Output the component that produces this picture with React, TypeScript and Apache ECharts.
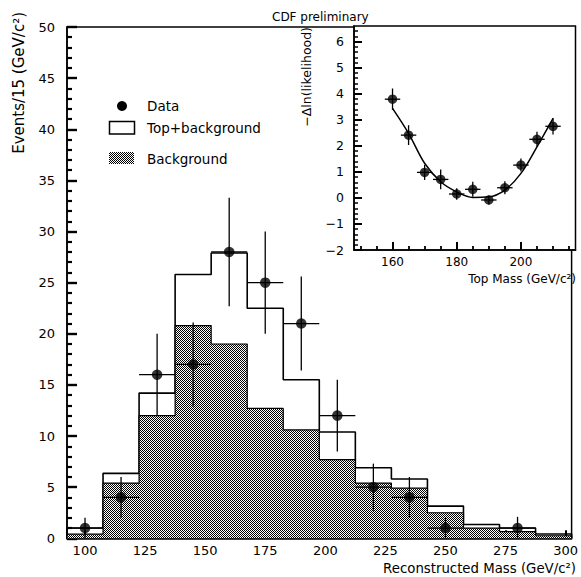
import React, { useEffect, useRef } from "react";
import * as echarts from "echarts";

// ---- Main histogram (reconstructed mass) ----
const binCenters = [100, 115, 130, 145, 160, 175, 190, 205, 220, 235, 250, 265, 280, 295];
const BIN_WIDTH = 15;
const topPlusBackground = [1.0, 6.35, 14.2, 25.8, 27.9, 22.5, 15.5, 10.4, 6.9, 5.8, 3.15, 1.35, 1.0, 0.42];
const backgroundOnly = [0.4, 5.4, 12.0, 20.8, 19.0, 12.7, 10.6, 7.7, 5.4, 4.9, 2.5, 1.0, 0.65, 0.25];
const dataMass = [100, 115, 130, 145, 160, 175, 190, 205, 220, 235, 250, 280];
const dataEvents = [1, 4, 16, 17, 28, 25, 21, 12, 5, 4, 1, 1];
const dataErrors = [1, 2, 4, 4.1, 5.3, 5, 4.6, 3.5, 2.3, 2, 1, 1.1];
const massTickLabels = [100, 125, 150, 175, 200, 225, 250, 275, 300];
const eventTickLabels = [0, 5, 10, 15, 20, 25, 30, 35, 40, 45, 50];
const MASS_MIN = 92.5;
const MASS_MAX = 302.5;

// ---- Inset: likelihood scan ----
const scanMass = [160, 165, 170, 175, 180, 185, 190, 195, 200, 205, 210];
const scanNll = [3.79, 2.41, 0.98, 0.71, 0.15, 0.33, -0.08, 0.39, 1.26, 2.25, 2.75];
const scanErr = [0.41, 0.38, 0.29, 0.38, 0.22, 0.29, 0.17, 0.25, 0.25, 0.29, 0.32];
const SCAN_HALF_STEP = 2.4;
const fitNll = [3.44, 2.48, 1.33, 0.62, 0.23, 0.02, 0.04, 0.3, 0.94, 1.96, 3.05];
const insetMassLabels = [160, 180, 200];
const insetMassMinorTicks = [150, 155, 160, 165, 170, 175, 180, 185, 190, 195, 200, 205, 210, 215];
const insetNllLabels = [-2, -1, 0, 1, 2, 3, 4, 5, 6];

const FONT = '"DejaVu Sans", "Liberation Sans", sans-serif';

function makePattern(): HTMLCanvasElement {
  const size = 4;
  const c = document.createElement("canvas");
  c.width = size;
  c.height = size;
  const ctx = c.getContext("2d")!;
  ctx.fillStyle = "#ffffff";
  ctx.fillRect(0, 0, size, size);
  ctx.fillStyle = "#000000";
  for (let i = 0; i < size; i++) {
    for (let j = 0; j < size; j++) {
      if ((i + j) % 2 === 0) ctx.fillRect(i, j, 1, 1);
    }
  }
  return c;
}

function stepData(values: number[]): number[][] {
  const n = values.length;
  const edges = binCenters.map((c) => c - BIN_WIDTH / 2);
  edges.push(binCenters[n - 1] + BIN_WIDTH / 2);
  const pts: number[][] = [[edges[0], 0]];
  values.forEach((v, i) => pts.push([edges[i], v]));
  pts.push([edges[n], values[n - 1]]);
  pts.push([edges[n], 0]);
  return pts;
}

function errorBarRender(lineWidth: number, yFloor: number) {
  return (params: any, api: any) => {
    const x = api.value(0);
    const y = api.value(1);
    const ey = api.value(2);
    const ex = api.value(3);
    const top = api.coord([x, y + ey]);
    const bot = api.coord([x, Math.max(y - ey, yFloor)]);
    const left = api.coord([x - ex, y]);
    const right = api.coord([x + ex, y]);
    const style = { stroke: "#000", lineWidth };
    return {
      type: "group",
      children: [
        { type: "line", shape: { x1: top[0], y1: top[1], x2: bot[0], y2: bot[1] }, style },
        { type: "line", shape: { x1: left[0], y1: left[1], x2: right[0], y2: right[1] }, style },
      ],
    };
  };
}

const minusFmt = (v: number) => String(v).replace("-", "\u2212");

export default function App() {
  const ref = useRef<HTMLDivElement>(null);

  useEffect(() => {
    if (!ref.current) return;
    const chart = echarts.init(ref.current, undefined, { renderer: "svg" });
    const canvas = makePattern();
    const pattern = { image: canvas, repeat: "repeat" as const, imageWidth: 4, imageHeight: 4 };

    const mkAxisLine = () => ({ show: true, onZero: false, lineStyle: { color: "#000", width: 1.5 } });
    const labelStyle = { color: "#000", fontFamily: FONT };
    const eventMinorTicks = eventTickLabels.slice(0, -1).flatMap((v) => [v + 1, v + 2, v + 3, v + 4]);
    const nllMinorTicks = insetNllLabels.flatMap((v) => (v < 6 ? [v + 0.2, v + 0.4, v + 0.6, v + 0.8] : [6.2, 6.4]));

    const option: any = {
      animation: false,
      backgroundColor: "#fff",
      grid: [
        { left: 67, top: 27, right: 5.5, bottom: 38.7, show: true, borderColor: "#000", borderWidth: 1.5 },
        { left: 354, top: 26, right: 5.5, bottom: 327, show: true, borderColor: "#000", borderWidth: 1.5, backgroundColor: "#fff" },
      ],
      xAxis: [
        {
          type: "value", gridIndex: 0, min: MASS_MIN, max: MASS_MAX, position: "bottom",
          axisLine: mkAxisLine(),
          axisTick: { show: true, inside: true, length: 8, customValues: massTickLabels, lineStyle: { color: "#000", width: 2 } },
          axisLabel: { ...labelStyle, fontSize: 13, margin: 6, customValues: massTickLabels },
          splitLine: { show: false },
        },
        {
          type: "value", gridIndex: 1, min: 148, max: 217, position: "bottom",
          axisLine: mkAxisLine(),
          axisTick: { show: true, inside: true, length: 8, customValues: insetMassLabels, lineStyle: { color: "#000", width: 2 } },
          axisLabel: { ...labelStyle, fontSize: 12, margin: 6, customValues: insetMassLabels },
          splitLine: { show: false },
        },
        {
          type: "value", gridIndex: 1, min: 148, max: 217, position: "bottom",
          axisLine: { show: false, onZero: false },
          axisTick: { show: true, inside: true, length: 4, customValues: insetMassMinorTicks, lineStyle: { color: "#000", width: 1.8 } },
          axisLabel: { show: false },
          splitLine: { show: false },
        },
      ],
      yAxis: [
        {
          type: "value", gridIndex: 0, min: 0, max: 50, position: "left",
          axisLine: mkAxisLine(),
          axisTick: { show: true, inside: true, length: 10, customValues: eventTickLabels, lineStyle: { color: "#000", width: 2.4 } },
          axisLabel: { ...labelStyle, fontSize: 13, margin: 12, customValues: eventTickLabels },
          splitLine: { show: false },
        },
        {
          type: "value", gridIndex: 0, min: 0, max: 50, position: "left",
          axisLine: { show: false, onZero: false },
          axisTick: { show: true, inside: true, length: 5, customValues: eventMinorTicks, lineStyle: { color: "#000", width: 2.2 } },
          axisLabel: { show: false },
          splitLine: { show: false },
        },
        {
          type: "value", gridIndex: 1, min: -2, max: 6.6, position: "left",
          axisLine: mkAxisLine(),
          axisTick: { show: true, inside: true, length: 8, customValues: insetNllLabels, lineStyle: { color: "#000", width: 2 } },
          axisLabel: { ...labelStyle, fontSize: 12.5, margin: 10, customValues: insetNllLabels, formatter: minusFmt },
          splitLine: { show: false },
        },
        {
          type: "value", gridIndex: 1, min: -2, max: 6.6, position: "left",
          axisLine: { show: false, onZero: false },
          axisTick: { show: true, inside: true, length: 4, customValues: nllMinorTicks, lineStyle: { color: "#000", width: 1.5 } },
          axisLabel: { show: false },
          splitLine: { show: false },
        },
      ],
      series: [
        {
          name: "Top+background", type: "line", xAxisIndex: 0, yAxisIndex: 0,
          step: "end", symbol: "none", data: stepData(topPlusBackground),
          lineStyle: { color: "#000", width: 1.6 }, z: 2,
        },
        {
          name: "Background", type: "line", xAxisIndex: 0, yAxisIndex: 0,
          step: "end", symbol: "none", data: stepData(backgroundOnly),
          lineStyle: { color: "#000", width: 1.2 }, areaStyle: { color: pattern, opacity: 1 }, z: 3,
        },
        {
          name: "Data errors", type: "custom", xAxisIndex: 0, yAxisIndex: 0,
          renderItem: errorBarRender(1.3, 0),
          encode: { x: 0, y: 1 },
          data: dataMass.map((m, i) => [m, dataEvents[i], dataErrors[i], BIN_WIDTH / 2]), z: 4,
        },
        {
          name: "Data", type: "scatter", xAxisIndex: 0, yAxisIndex: 0,
          symbol: "circle", symbolSize: 10.5, itemStyle: { color: "#000" },
          data: dataMass.map((m, i) => [m, dataEvents[i]]), z: 5,
        },
        {
          name: "Fit", type: "line", xAxisIndex: 1, yAxisIndex: 2,
          smooth: 0.35, symbol: "none", lineStyle: { color: "#000", width: 1.5 },
          data: scanMass.map((m, i) => [m, fitNll[i]]), z: 3,
        },
        {
          name: "Scan errors", type: "custom", xAxisIndex: 1, yAxisIndex: 2,
          renderItem: errorBarRender(1.3, -2),
          encode: { x: 0, y: 1 },
          data: scanMass.map((m, i) => [m, scanNll[i], scanErr[i], SCAN_HALF_STEP]), z: 4,
        },
        {
          name: "Scan", type: "scatter", xAxisIndex: 1, yAxisIndex: 2,
          symbol: "circle", symbolSize: 9.5, itemStyle: { color: "#000" },
          data: scanMass.map((m, i) => [m, scanNll[i]]), z: 5,
        },
      ],
      graphic: [
        {
          type: "text", x: 18.5, y: 12, rotation: Math.PI / 2,
          style: { text: "Events/15 (GeV/c\u00B2)", fill: "#000", font: `15px ${FONT}`, textAlign: "right", textVerticalAlign: "middle" },
        },
        {
          type: "text", x: 576, y: 568,
          style: { text: "Reconstructed Mass (GeV/c\u00B2)", fill: "#000", font: `13.3px ${FONT}`, textAlign: "right", textVerticalAlign: "middle" },
        },
        {
          type: "text", x: 272, y: 16.5,
          style: { text: "CDF preliminary", fill: "#000", font: `12px ${FONT}`, textAlign: "left", textVerticalAlign: "middle" },
        },
        {
          type: "text", x: 306, y: 27, rotation: Math.PI / 2,
          style: { text: "\u2212\u0394ln(likelihood)", fill: "#000", font: `12.5px ${FONT}`, textAlign: "right", textVerticalAlign: "middle" },
        },
        {
          type: "text", x: 576, y: 279,
          style: { text: "Top Mass (GeV/c\u00B2)", fill: "#000", font: `12px ${FONT}`, textAlign: "right", textVerticalAlign: "middle" },
        },
        // legend
        { type: "circle", shape: { cx: 122, cy: 106, r: 5 }, style: { fill: "#000" } },
        {
          type: "text", x: 147, y: 106,
          style: { text: "Data", fill: "#000", font: `13.5px ${FONT}`, textAlign: "left", textVerticalAlign: "middle" },
        },
        { type: "rect", shape: { x: 109.5, y: 121.5, width: 25, height: 12.5 }, style: { fill: "#fff", stroke: "#000", lineWidth: 1.5 } },
        {
          type: "text", x: 147, y: 128,
          style: { text: "Top+background", fill: "#000", font: `13.5px ${FONT}`, textAlign: "left", textVerticalAlign: "middle" },
        },
        { type: "rect", shape: { x: 109, y: 152, width: 25, height: 12 }, style: { fill: pattern } },
        {
          type: "text", x: 147, y: 159,
          style: { text: "Background", fill: "#000", font: `13.5px ${FONT}`, textAlign: "left", textVerticalAlign: "middle" },
        },
      ],
    };

    chart.setOption(option);
    return () => chart.dispose();
  }, []);

  return (
    <div
      ref={ref}
      style={{ position: "fixed", left: 0, top: 0, width: 581, height: 577, background: "#fff" }}
    />
  );
}
